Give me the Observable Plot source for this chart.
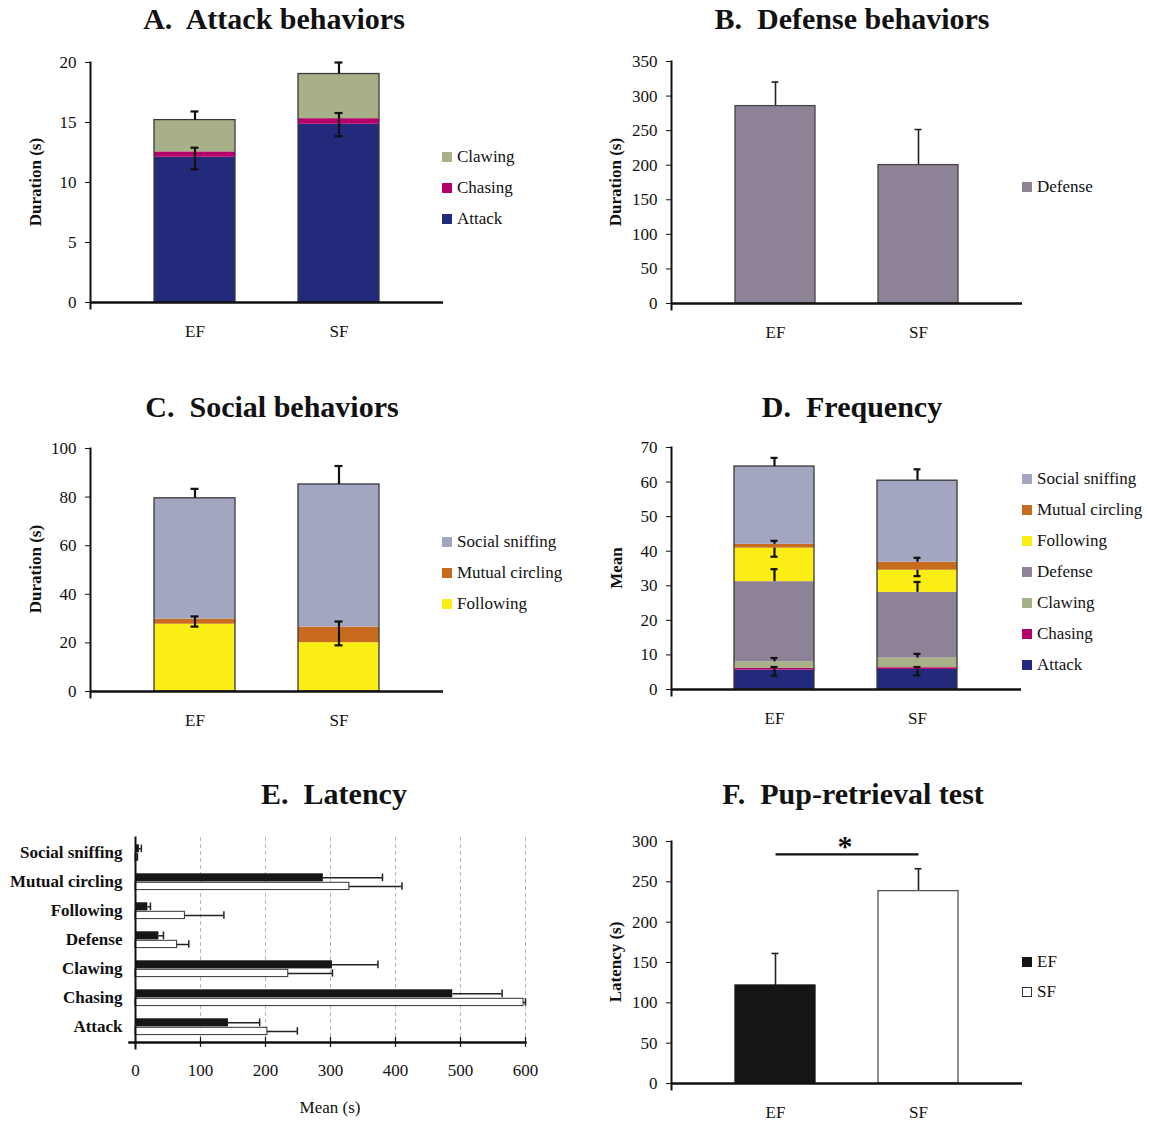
<!DOCTYPE html>
<html><head><meta charset="utf-8">
<script src="https://cdn.jsdelivr.net/npm/d3@7"></script>
<script src="https://cdn.jsdelivr.net/npm/@observablehq/plot@0.6"></script>
<style>
body{margin:0;background:#fff;}
#root{position:relative;width:1150px;height:1121px;font-family:"Liberation Serif","Times New Roman",serif;color:#111;overflow:hidden;}
.title{position:absolute;font-weight:bold;font-size:30px;white-space:pre;transform:translateX(-50%);line-height:1;}
.ylab{position:absolute;font-weight:bold;font-size:17px;white-space:nowrap;transform:translate(-50%,-50%) rotate(-90deg);line-height:1;}
.txt{position:absolute;font-size:17px;white-space:nowrap;transform:translate(-50%,-50%);line-height:1;}
.leg{position:absolute;font-size:17px;white-space:nowrap;display:flex;align-items:center;height:20px;line-height:20px;}
.sw{width:10px;height:10px;margin-right:5px;display:inline-block;box-sizing:border-box;}
</style></head><body><div id="root"></div>
<script>
// ---------- data ----------
const groups = ["EF", "SF"];

// A. Attack behaviors (duration, s) — stacked bottom to top
const aSegs = ["Attack", "Chasing", "Clawing"];
const aColors = ["#232a7c", "#b4006b", "#a8b087"];
const aEF = [12.1, 0.45, 2.65];
const aSF = [14.85, 0.47, 3.72];
const aErrEF = [["Attack", 11.1, 12.9], ["Clawing", null, 15.92]];
const aErrSF = [["Attack", 13.86, 15.79], ["Clawing", null, 20.0]];
const aTicks = [0, 5, 10, 15, 20];

// B. Defense behaviors
const bSeg = "Defense";
const bColor = "#8e8296";
const bValues = [285.5, 200.2];
const bErrTop = [320.2, 251.6];
const bTicks = [0, 50, 100, 150, 200, 250, 300, 350];

// C. Social behaviors
const cSegs = ["Following", "Mutual circling", "Social sniffing"];
const cColors = ["#fbee14", "#c86b1e", "#a2a6c1"];
const cEF = [27.7, 2.1, 49.7];
const cSF = [20.1, 6.4, 58.7];
const cErrEF = [["Following", 26.7, 30.9], ["Social sniffing", null, 83.4]];
const cErrSF = [["Following", 19.0, 28.8], ["Social sniffing", null, 92.8]];
const cTicks = [0, 20, 40, 60, 80, 100];

// D. Frequency
const dSegs = ["Attack", "Chasing", "Clawing", "Defense", "Following", "Mutual circling", "Social sniffing"];
const dColors = ["#232a7c", "#b4006b", "#a8b087", "#8e8296", "#fbee14", "#c86b1e", "#a2a6c1"];
const dEF = [5.6, 0.5, 1.9, 23.2, 9.7, 1.1, 22.5];
const dSF = [5.8, 0.5, 2.8, 19.0, 6.4, 2.3, 23.6];
const dErrEF = [["Attack", 4.0, 6.5], ["Clawing", null, 9.1], ["Defense", null, 34.8], ["Following", 38.4, null], ["Mutual circling", null, 43.0], ["Social sniffing", null, 67.0]];
const dErrSF = [["Attack", 4.1, 6.5], ["Clawing", null, 10.3], ["Defense", null, 31.1], ["Following", 32.8, null], ["Mutual circling", null, 38.1], ["Social sniffing", null, 63.7]];
const dTicks = [0, 10, 20, 30, 40, 50, 60, 70];

// E. Latency (mean, s)
const latCats = ["Social sniffing", "Mutual circling", "Following", "Defense", "Clawing", "Chasing", "Attack"];
const latEF = [6, 289, 19, 36, 303, 488, 143];
const latEFerr = [3, 91, 4, 7, 70, 76, 48];
const latSF = [2, 329, 76, 64, 235, 597, 203];
const latSFerr = [1, 81, 60, 18, 68, 3, 46];
const eTicks = [0, 100, 200, 300, 400, 500, 600];
const eGrid = [100, 200, 300, 400, 500, 600];

// F. Pup-retrieval test
const fValues = [121.5, 238.5];
const fErrTop = [161.2, 266.2];
const fColors = ["#151515", "#ffffff"];
const fSig = 284;
const fTicks = [0, 50, 100, 150, 200, 250, 300];

// ---------- helpers ----------
const root = document.getElementById("root");
const FONT = '"Liberation Serif","Times New Roman",serif';
function place(frame, m, opts) {
  const [l, t, r, b] = frame;
  const [mt, mr, mb, ml] = m;
  const width = ml + (r - l) + mr, height = mt + (b - t) + mb;
  const svg = Plot.plot({
    width, height, marginTop: mt, marginRight: mr, marginBottom: mb, marginLeft: ml,
    style: {fontFamily: FONT, fontSize: "17px", color: "#111", background: "transparent", overflow: "visible"},
    ...opts
  });
  svg.style.position = "absolute";
  svg.style.left = (l - ml) + "px";
  svg.style.top = (t - mt) + "px";
  root.appendChild(svg);
}
function html(cls, text, x, y) {
  const d = document.createElement("div");
  d.className = cls; d.textContent = text;
  d.style.left = x + "px"; d.style.top = y + "px";
  root.appendChild(d);
}
function legend(x, ys, labels, fills, borders) {
  labels.forEach((lab, i) => {
    const d = document.createElement("div");
    d.className = "leg";
    d.style.left = x + "px"; d.style.top = (ys[i] - 10) + "px";
    const s = document.createElement("span");
    s.className = "sw"; s.style.background = fills[i];
    if (borders) s.style.border = "1px solid " + borders[i];
    d.appendChild(s);
    d.appendChild(document.createTextNode(lab));
    root.appendChild(d);
  });
}
function baseAxes(ticks) {
  return [
    Plot.ruleY([0], {stroke: "#111", strokeWidth: 2.5}),
    Plot.frame({anchor: "left", stroke: "#111", strokeWidth: 2, insetBottom: -6}),
    Plot.axisY({ticks, tickSize: 5, tickPadding: 9, label: null, fontSize: 17}),
    Plot.axisX({tickSize: 0, tickPadding: 22, label: null, fontSize: 17})
  ];
}
function stacked(frame, segs, colors, efVals, sfVals, errEF, errSF, ticks) {
  const rows = [], tops = {};
  for (const [g, vals] of [["EF", efVals], ["SF", sfVals]]) {
    let acc = 0; tops[g] = {};
    segs.forEach((s, i) => { rows.push({g, seg: s, y1: acc, y2: acc + vals[i]}); acc += vals[i]; tops[g][s] = acc; });
  }
  const totals = [{g: "EF", total: d3.sum(efVals)}, {g: "SF", total: d3.sum(sfVals)}];
  const errs = [], caps = [];
  for (const [g, list] of [["EF", errEF], ["SF", errSF]]) {
    for (const [s, lo, hi] of list) {
      errs.push({g, lo: lo ?? tops[g][s], hi: hi ?? tops[g][s]});
      if (lo != null) caps.push({g, v: lo});
      if (hi != null) caps.push({g, v: hi});
    }
  }
  place(frame, [10, 10, 45, 90], {
    x: {domain: groups, padding: 0.44},
    y: {domain: [ticks[0], ticks[ticks.length - 1]]},
    color: {domain: segs, range: colors},
    marks: [
      Plot.barY(rows, {x: "g", y1: "y1", y2: "y2", fill: "seg"}),
      Plot.barY(totals, {x: "g", y: "total", fill: "none", stroke: "#3a3a3a", strokeWidth: 1.3}),
      Plot.ruleX(errs, {x: "g", y1: "lo", y2: "hi", stroke: "#111", strokeWidth: 2.2}),
      Plot.tickY(caps, {x: "g", y: "v", stroke: "#111", strokeWidth: 2.2, insetLeft: 36.5, insetRight: 36.5}),
      ...baseAxes(ticks)
    ]
  });
}
function simple(frame, values, errTop, fills, strokes, ticks, extra) {
  const rows = groups.map((g, i) => ({g, v: values[i], e: errTop[i], fill: fills[i], stroke: strokes[i]}));
  place(frame, [10, 10, 45, 90], {
    x: {domain: groups, padding: 0.44},
    y: {domain: [ticks[0], ticks[ticks.length - 1]]},
    marks: [
      Plot.ruleX(rows, {x: "g", y1: "v", y2: "e", stroke: "#222", strokeWidth: 1.6}),
      Plot.tickY(rows, {x: "g", y: "e", stroke: "#222", strokeWidth: 1.6, insetLeft: 36.5, insetRight: 36.5}),
      Plot.barY(rows, {x: "g", y: "v", fill: d => d.fill, stroke: d => d.stroke, strokeWidth: 1.3}),
      ...(extra || []),
      ...baseAxes(ticks)
    ]
  });
}

// ---------- panels ----------
// A
stacked([90, 62, 443, 302], aSegs, aColors, aEF, aSF, aErrEF, aErrSF, aTicks);
legend(442, [157, 188, 219], ["Clawing", "Chasing", "Attack"], [aColors[2], aColors[1], aColors[0]]);

// B
simple([671, 61, 1022, 303], bValues, bErrTop, [bColor, bColor], ["#444", "#444"], bTicks);
legend(1022, [187], [bSeg], [bColor]);

// C
stacked([90, 448, 443, 691], cSegs, cColors, cEF, cSF, cErrEF, cErrSF, cTicks);
legend(442, [541.5, 572.5, 603.5], ["Social sniffing", "Mutual circling", "Following"], [cColors[2], cColors[1], cColors[0]]);

// D
stacked([671, 447, 1021, 689], dSegs, dColors, dEF, dSF, dErrEF, dErrSF, dTicks);
legend(1022, [479, 510, 541, 572, 603, 634, 665], dSegs.slice().reverse(), dColors.slice().reverse());

// E
{
  const rows = latCats.flatMap((c, i) => [
    {cat: c, g: "EF", v: latEF[i], e: latEFerr[i]},
    {cat: c, g: "SF", v: latSF[i], e: latSFerr[i]}
  ]);
  const ef = rows.filter(d => d.g === "EF"), sf = rows.filter(d => d.g === "SF");
  const fh = 1042 - 837;
  place([135, 837, 525, 1042], [5, 25, 45, 135], {
    x: {domain: [eTicks[0], eTicks[eTicks.length - 1]]},
    y: {domain: latCats, padding: 0},
    marks: [
      Plot.ruleX(eGrid, {stroke: "#b8b8b8", strokeDasharray: "4,3", strokeWidth: 1}),
      Plot.barX(ef, {x: "v", y: "cat", fill: "#161616", insetTop: 6.3, insetBottom: 14.6}),
      Plot.barX(sf, {x: "v", y: "cat", fill: "#fff", stroke: "#333", strokeWidth: 1, insetTop: 15.3, insetBottom: 6.4}),
      Plot.ruleY(ef, {y: "cat", x1: "v", x2: d => d.v + d.e, dy: -4.2, stroke: "#222", strokeWidth: 1.5}),
      Plot.ruleY(sf, {y: "cat", x1: "v", x2: d => d.v + d.e, dy: 4.5, stroke: "#222", strokeWidth: 1.5}),
      Plot.tickX(ef, {x: d => d.v + d.e, y: "cat", stroke: "#222", strokeWidth: 1.5, insetTop: 6.5, insetBottom: 14.8}),
      Plot.tickX(sf, {x: d => d.v + d.e, y: "cat", stroke: "#222", strokeWidth: 1.5, insetTop: 15.2, insetBottom: 6.3}),
      Plot.tickX(eTicks, {x: d => d, stroke: "#111", strokeWidth: 1.2, insetTop: fh - 5, insetBottom: -5}),
      Plot.frame({anchor: "bottom", stroke: "#111", strokeWidth: 2.5, insetLeft: -6}),
      Plot.frame({anchor: "left", stroke: "#111", strokeWidth: 2, insetBottom: -6}),
      Plot.axisX({ticks: eTicks, tickSize: 0, tickPadding: 21, label: null, fontSize: 17}),
      Plot.axisY({tickSize: 0, tickPadding: 13, label: null, fontSize: 17, fontWeight: "bold"})
    ]
  });
}

// F
simple([671, 841, 1022, 1083], fValues, fErrTop, fColors, ["#151515", "#555"], fTicks, [
  Plot.link([{a: "EF", b: "SF", y: fSig}], {x1: "a", x2: "b", y1: "y", y2: "y", stroke: "#111", strokeWidth: 2.2})
]);
legend(1022, [962, 992], groups, fColors, ["#151515", "#333"]);
html("title", "*", 845, 831);

// ---------- titles and axis labels ----------
html("title", "A.  Attack behaviors", 274, 4);
html("title", "B.  Defense behaviors", 852, 4);
html("title", "C.  Social behaviors", 272, 392);
html("title", "D.  Frequency", 852, 392);
html("title", "E.  Latency", 334, 779);
html("title", "F.  Pup-retrieval test", 853, 779);
html("ylab", "Duration (s)", 35, 182);
html("ylab", "Duration (s)", 615, 182);
html("ylab", "Duration (s)", 35, 569);
html("ylab", "Mean", 616, 568);
html("ylab", "Latency (s)", 615, 962);
html("txt", "Mean (s)", 330, 1107);
</script>
</body></html>
